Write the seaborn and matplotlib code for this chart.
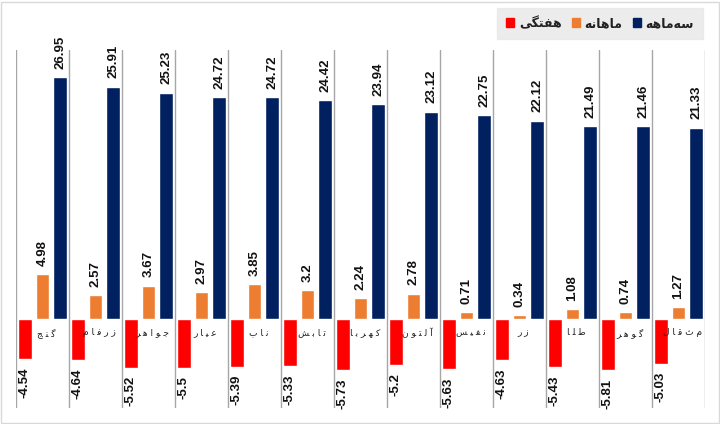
import matplotlib
matplotlib.use("Agg")
import matplotlib.pyplot as plt
import seaborn as sns
import pandas as pd
from matplotlib.patches import Rectangle

categories = ["گنج", "زرفام", "جواهر", "عیار", "ناب", "تابش", "کهربا",
              "آلتون", "نفیس", "زر", "طلا", "گوهر", "مثقال"]
series_names = ["هفتگی", "ماهانه", "سه‌ماهه"]
weekly = [-4.54, -4.64, -5.52, -5.5, -5.39, -5.33, -5.73, -5.2, -5.63, -4.63, -5.43, -5.81, -5.03]
monthly = [4.98, 2.57, 3.67, 2.97, 3.85, 3.2, 2.24, 2.78, 0.71, 0.34, 1.08, 0.74, 1.27]
quarterly = [26.95, 25.91, 25.23, 24.72, 24.72, 24.42, 23.94, 23.12, 22.75, 22.12, 21.49, 21.46, 21.33]
colors = ["#ff0000", "#ed7d31", "#002060"]

# --- minimal Persian shaping (matplotlib has no complex text layout) ---
FORMS = {
    'ا': ('\uFE8D', '\uFE8E', None, None),
    'آ': ('\uFE81', '\uFE82', None, None),
    'ب': ('\uFE8F', '\uFE90', '\uFE91', '\uFE92'),
    'ت': ('\uFE95', '\uFE96', '\uFE97', '\uFE98'),
    'ج': ('\uFE9D', '\uFE9E', '\uFE9F', '\uFEA0'),
    'ر': ('\uFEAD', '\uFEAE', None, None),
    'ز': ('\uFEAF', '\uFEB0', None, None),
    'س': ('\uFEB1', '\uFEB2', '\uFEB3', '\uFEB4'),
    'ش': ('\uFEB5', '\uFEB6', '\uFEB7', '\uFEB8'),
    'ط': ('\uFEC1', '\uFEC2', '\uFEC3', '\uFEC4'),
    'ع': ('\uFEC9', '\uFECA', '\uFECB', '\uFECC'),
    'ف': ('\uFED1', '\uFED2', '\uFED3', '\uFED4'),
    'ق': ('\uFED5', '\uFED6', '\uFED7', '\uFED8'),
    'ک': ('\uFB8E', '\uFB8F', '\uFB90', '\uFB91'),
    'گ': ('\uFB92', '\uFB93', '\uFB94', '\uFB95'),
    'ل': ('\uFEDD', '\uFEDE', '\uFEDF', '\uFEE0'),
    'م': ('\uFEE1', '\uFEE2', '\uFEE3', '\uFEE4'),
    'ن': ('\uFEE5', '\uFEE6', '\uFEE7', '\uFEE8'),
    'ه': ('\uFEE9', '\uFEEA', '\uFEEB', '\uFEEC'),
    'و': ('\uFEED', '\uFEEE', None, None),
    'ی': ('\uFBFC', '\uFBFD', '\uFBFE', '\uFBFF'),
}


def shape(s, sep=""):
    out = []
    n = len(s)
    for i, ch in enumerate(s):
        if ch not in FORMS:
            if ch != '\u200c':
                out.append(ch)
            continue
        prev = s[i - 1] if i > 0 else None
        nxt = s[i + 1] if i < n - 1 else None
        cp = prev in FORMS and FORMS[prev][2] is not None
        cn = FORMS[ch][2] is not None and nxt in FORMS
        iso, fin, ini, med = FORMS[ch]
        if cp and cn:
            out.append(med)
        elif cp:
            out.append(fin)
        elif cn:
            out.append(ini)
        else:
            out.append(iso)
    return sep.join(out[::-1])


df = pd.DataFrame({
    "cat": categories * 3,
    "series": [series_names[0]] * 13 + [series_names[1]] * 13 + [series_names[2]] * 13,
    "val": weekly + monthly + quarterly,
})

sns.set_theme(style="white")
plt.rcParams['font.family'] = ['DejaVu Sans']

fig = plt.figure(figsize=(7.2, 4.24), dpi=100)
ax = fig.add_axes([16 / 720, 1 - 408 / 424, (705 - 16) / 720, (408 - 50) / 424])

sns.barplot(data=df, x="cat", y="val", hue="series", order=categories,
            hue_order=series_names, palette=colors, width=1.0, gap=0.24,
            ax=ax, legend=False, saturation=1, errorbar=None)

ax.set_xlim(-0.5, len(categories) - 0.5)
ax.set_ylim(-10, 30)
for s in ax.spines.values():
    s.set_visible(False)
ax.set_xticks([])
ax.set_yticks([])
ax.set_xlabel("")
ax.set_ylabel("")
for k in range(len(categories) + 1):
    ax.axvline(k - 0.5, color="#a6a6a6", lw=1, zorder=0)

label_font = ['Liberation Sans', 'DejaVu Sans']
for cont in ax.containers:
    for bar in cont:
        v = bar.get_height()
        x = bar.get_x() + bar.get_width() / 2
        if v >= 0:
            ax.annotate(f"{v:g}", (x, v), xytext=(0, 6), textcoords="offset points",
                        rotation=90, ha="center", va="bottom", fontsize=9.5,
                        fontweight="bold", color="#111111", family=label_font)
        else:
            ax.annotate(f"{v:g}", (x, v), xytext=(0, -6), textcoords="offset points",
                        rotation=90, ha="center", va="top", fontsize=9.5,
                        fontweight="bold", color="#111111", family=label_font)

for i, c in enumerate(categories):
    ax.annotate(shape(c, " "), (i, 0), xytext=(3, -7), textcoords="offset points",
                ha="center", va="top", fontsize=6.5, color="#222222",
                family=['DejaVu Sans'])

handles = [Rectangle((0, 0), 1, 1, color=c) for c in colors]
leg = fig.legend(handles, [shape(s) for s in series_names], ncol=3,
                 loc="upper right", bbox_to_anchor=(703 / 720, 1 - 8 / 424),
                 borderaxespad=0, frameon=True, fancybox=False,
                 handlelength=0.7, handleheight=0.7, handletextpad=0.35,
                 columnspacing=0.8, borderpad=0.7,
                 prop={"size": 9, "weight": "bold", "family": "DejaVu Sans"})
leg.get_frame().set_facecolor("#e8e8e8")
leg.get_frame().set_edgecolor("#e8e8e8")
for t in leg.get_texts():
    t.set_color("#222222")

fig.patches.append(Rectangle((1 / 720, 1 / 424), 718 / 720, 421 / 424,
                             transform=fig.transFigure, fill=False,
                             edgecolor="#d9d9d9", lw=1))

fig.savefig("out.png", dpi=100)
